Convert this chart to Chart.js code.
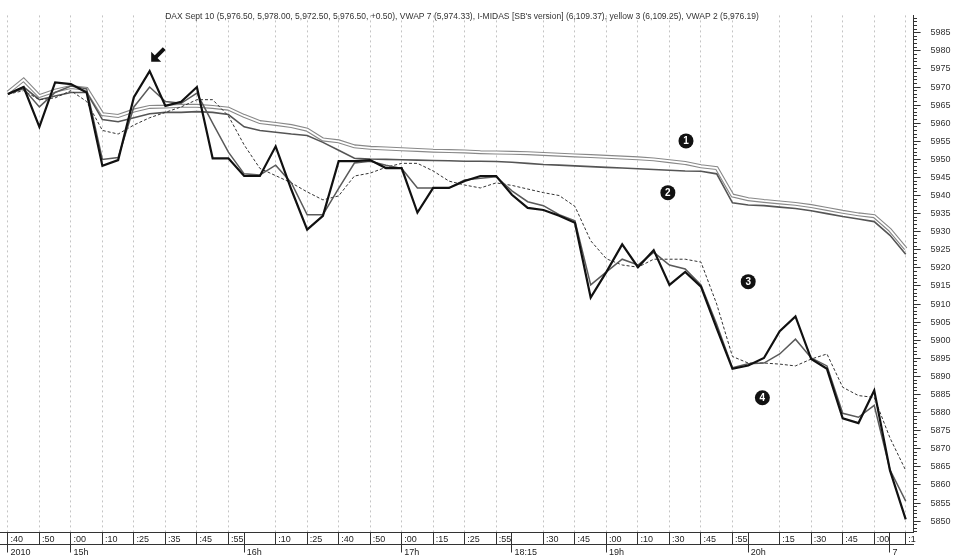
<!DOCTYPE html>
<html lang="en">
  <head>
    <meta charset="UTF-8" />
    <title>DAX Sept 10</title>
    <script src="https://cdn.jsdelivr.net/npm/chart.js@4.4.0/dist/chart.umd.min.js"></script>
    <style>
      html, body { margin: 0; padding: 0; background: #fff; }
      #wrap { width: 953px; height: 558px; position: relative; }
    </style>
  </head>
  <body>
    <div id="wrap"><canvas id="chart"></canvas></div>

    <script>
      // bar labels, one entry per bar (empty = no label on that bar)
      const minuteLabels = [
        ":40", "", ":50", "", ":00", "", ":10", "", ":25", "",
        ":35", "", ":45", "", ":55", "", "", ":10", "", ":25",
        "", ":40", "", ":50", "", ":00", "", ":15", "", ":25",
        "", ":55", "", "", ":30", "", ":45", "", ":00", "",
        ":10", "", ":30", "", ":45", "", ":55", "", "", ":15",
        "", ":30", "", ":45", "", ":00", "", ":1",
      ];
      const hourLabels = [
        "2010", "", "", "", "15h", "", "", "", "", "",
        "", "", "", "", "", "16h", "", "", "", "",
        "", "", "", "", "", "17h", "", "", "", "",
        "", "", "18:15", "", "", "", "", "", "19h", "",
        "", "", "", "", "", "", "", "20h", "", "",
        "", "", "", "", "", "", "7", "",
      ];

      // DAX price (thick black)
      const price = [
        5968.1, 5970, 5959, 5971.3, 5970.8, 5968.5, 5948.2, 5949.8, 5967.2, 5974.4,
        5964.8, 5965.9, 5970, 5950.3, 5950.3, 5945.4, 5945.4, 5953.6, 5941.6, 5930.6,
        5934.4, 5949.5, 5949.5, 5949.8, 5947.6, 5947.6, 5935.3, 5942.1, 5942.1, 5944,
        5945.4, 5945.4, 5940.2, 5936.6, 5936, 5934.4, 5932.5, 5911.8, 5918.9, 5926.5,
        5920.2, 5924.9, 5915.3, 5918.9, 5914.8, 5903.3, 5892.1, 5893, 5895.1, 5902.5,
        5906.6, 5894.8, 5892.1, 5878.4, 5877.1, 5886.1, 5864, 5850.5,
      ];
      // VWAP 2 (grey zigzag)
      const vwap2 = [
        5968.1, 5969.5, 5964.5, 5968.5, 5970.3, 5969.5, 5950, 5950.5, 5964.5, 5970,
        5966, 5965.5, 5968.3, 5960, 5952, 5946, 5945.7, 5948.4, 5943.5, 5934.7,
        5934.7, 5942, 5949, 5949.5, 5948.4, 5947.5, 5942.1, 5942.1, 5942.1, 5944.3,
        5944.8, 5945.2, 5941.3, 5938.3, 5937.2, 5934.7, 5933, 5915.3, 5918.9, 5922.4,
        5920.8, 5924.3, 5920.8, 5919.7, 5915.3, 5904.4, 5892.4, 5893.5, 5893.7, 5896.2,
        5900.3, 5895.1, 5892.9, 5879.8, 5878.7, 5882, 5864.2, 5855.5,
      ];
      // VWAP 7 (dashed)
      const vwap7 = [
        5968, 5969, 5966.5, 5967, 5969, 5966, 5958, 5957, 5959.5, 5961.5,
        5963, 5964.5, 5966.5, 5966.5, 5962, 5954, 5947.5, 5945.5, 5943.5, 5941,
        5938.8, 5939.9, 5945.4, 5946.2, 5947.8, 5948.9, 5948.9, 5946.8, 5944, 5942.9,
        5942.1, 5943.5, 5942.8, 5941.8, 5940.8, 5940, 5937, 5927.5, 5922.5, 5920.8,
        5920.2, 5922.4, 5922.4, 5922.4, 5921.6, 5910, 5895.5, 5893.7, 5893.7, 5893.4,
        5892.9, 5894.8, 5896.2, 5887, 5884.7, 5884.2, 5873, 5864,
      ];
      // line 2 (solid slow)
      const slow2 = [
        5968, 5970, 5966.5, 5967.5, 5968.5, 5968.5, 5961, 5960.4, 5961.5, 5962.6,
        5963, 5963, 5963.2, 5963, 5962.4, 5959, 5958, 5957.5, 5957, 5956.6,
        5954.7, 5952.5, 5950.3, 5950.1, 5950, 5949.9, 5949.8, 5949.7, 5949.6, 5949.5,
        5949.5, 5949.4, 5949.2, 5948.9, 5948.6, 5948.4, 5948.2, 5948, 5947.8, 5947.6,
        5947.4, 5947.2, 5947, 5946.8, 5946.7, 5946, 5938, 5937.4, 5937.2, 5936.8,
        5936.4, 5935.8, 5935, 5934.2, 5933.5, 5932.8, 5929, 5923.8,
      ];
      // line 1 (hollow slow)
      const slow1 = [
        5968.5, 5972, 5967.5, 5969, 5970, 5969.5, 5962.5, 5962, 5963.5, 5964.5,
        5964.6, 5964.8, 5964.8, 5964.5, 5964, 5962, 5960.3, 5959.8, 5959.2, 5958.2,
        5955.5, 5955, 5953.6, 5953.2, 5953, 5952.8, 5952.6, 5952.4, 5952.3, 5952.2,
        5952, 5951.9, 5951.8, 5951.7, 5951.5, 5951.3, 5951.1, 5950.9, 5950.7, 5950.5,
        5950.3, 5950, 5949.5, 5949, 5948.1, 5947.6, 5940, 5939, 5938.5, 5938.1,
        5937.7, 5937.1, 5936.3, 5935.5, 5934.8, 5934.3, 5930.5, 5925.3,
      ];

      const yMin = 5846.85;
      const yMax = 5989.8;

      const titleText =
        "DAX Sept 10 (5,976.50, 5,978.00, 5,972.50, 5,976.50, +0.50), VWAP 7 (5,974.33), I-MIDAS [SB's version] (6,109.37), yellow 3 (6,109.25), VWAP 2 (5,976.19)";

      // circled markers: number, bar position, price level
      const markers = [
        { n: "1", bar: 43.05, level: 5955.1 },
        { n: "2", bar: 41.9, level: 5940.8 },
        { n: "3", bar: 47.0, level: 5916.2 },
        { n: "4", bar: 47.9, level: 5884.1 },
      ];
      const arrowAt = { bar: 9.1, level: 5977 };

      const FONT = "'Liberation Sans', Arial, sans-serif";

      const overlay = {
        id: "overlay",
        afterDraw(chart) {
          const ctx = chart.ctx;
          const xs = chart.scales.x;
          const ys = chart.scales.y;
          ctx.save();
          // title
          ctx.font = "8.5px " + FONT;
          ctx.fillStyle = "#333";
          ctx.textAlign = "center";
          ctx.textBaseline = "middle";
          ctx.fillText(titleText, 462, 17, 658);

          // circled numbers
          markers.forEach((m) => {
            const x = xs.getPixelForValue(m.bar);
            const y = ys.getPixelForValue(m.level);
            ctx.beginPath();
            ctx.arc(x, y, 7.5, 0, Math.PI * 2);
            ctx.fillStyle = "#111";
            ctx.fill();
            ctx.fillStyle = "#fff";
            ctx.font = "bold 10px " + FONT;
            ctx.fillText(m.n, x, y + 0.5);
          });

          // arrow pointing down-left at the high
          const tx = xs.getPixelForValue(arrowAt.bar);
          const ty = ys.getPixelForValue(arrowAt.level);
          ctx.fillStyle = "#111";
          ctx.beginPath();
          ctx.moveTo(tx, ty);
          ctx.lineTo(tx, ty - 10);
          ctx.lineTo(tx + 10, ty);
          ctx.closePath();
          ctx.fill();
          ctx.strokeStyle = "#111";
          ctx.lineWidth = 4;
          ctx.beginPath();
          ctx.moveTo(tx + 4, ty - 4);
          ctx.lineTo(tx + 13, ty - 13);
          ctx.stroke();
          ctx.restore();
        },
      };

      const line = (data, color, width, extra) =>
        Object.assign(
          {
            data: data,
            borderColor: color,
            borderWidth: width,
            pointRadius: 0,
            tension: 0,
            fill: false,
          },
          extra || {}
        );

      const ctx = document.getElementById("chart").getContext("2d");
      new Chart(ctx, {
        type: "line",
        data: {
          labels: minuteLabels,
          datasets: [
            line(price, "#111", 2.2),
            line(vwap2, "#5a5a5a", 1.5),
            line(vwap7, "#333", 1, { borderDash: [3, 2] }),
            line(slow2, "#555", 1.6),
            line(slow1, "#fff", 1.8),
            line(slow1, "#888", 4),
          ],
        },
        options: {
          responsive: true,
          maintainAspectRatio: false,
          devicePixelRatio: 1,
          animation: false,
          layout: { autoPadding: false, padding: { top: 10, left: 0, right: 0, bottom: 0 } },
          plugins: {
            legend: { display: false },
            tooltip: { enabled: false },
          },
          scales: {
            x: {
              type: "category",
              position: "bottom",
              offset: true,
              weight: 0,
              afterFit: (s) => { s.height = 12; },
              grid: {
                drawOnChartArea: true,
                tickLength: 12,
                color: (c) => (minuteLabels[c.index] ? "#c4c4c4" : "transparent"),
                tickColor: (c) =>
                  minuteLabels[c.index] || hourLabels[c.index] ? "#333" : "transparent",
                tickBorderDash: [],
              },
              border: { display: true, color: "#333", width: 1, dash: [2, 3] },
              ticks: {
                autoSkip: false,
                maxRotation: 0,
                minRotation: 0,
                align: "start",
                padding: -10,
                color: "#222",
                font: { family: FONT, size: 9 },
                callback: (v, i) => (minuteLabels[i] ? " " + minuteLabels[i] : ""),
              },
            },
            x2: {
              type: "category",
              position: "bottom",
              labels: hourLabels,
              offset: true,
              weight: 1,
              afterFit: (s) => { s.height = 13.5; },
              grid: {
                drawOnChartArea: false,
                tickLength: 8,
                tickColor: (c) => (hourLabels[c.index] ? "#333" : "transparent"),
              },
              border: { display: true, color: "#333", width: 1 },
              ticks: {
                autoSkip: false,
                maxRotation: 0,
                minRotation: 0,
                align: "start",
                padding: -5,
                color: "#222",
                font: { family: FONT, size: 9 },
                callback: (v, i) => (hourLabels[i] ? " " + hourLabels[i] : ""),
              },
            },
            y: {
              type: "linear",
              position: "right",
              min: yMin,
              max: yMax,
              afterFit: (s) => { s.width = 39.4; },
              grid: {
                drawOnChartArea: false,
                tickLength: 7,
                tickColor: "#333",
                tickBorderDash: (c) =>
                  c.tick && Math.round(c.tick.value) % 5 === 0 ? [] : [3, 20],
              },
              border: { display: true, color: "#333", width: 1 },
              ticks: {
                stepSize: 1,
                includeBounds: false,
                autoSkip: false,
                padding: 10,
                color: "#333",
                font: { family: FONT, size: 9 },
                callback: (v) => (Math.round(v) % 5 === 0 ? String(Math.round(v)) : ""),
              },
            },
          },
        },
        plugins: [overlay],
      });
    </script>
  </body>
</html>
